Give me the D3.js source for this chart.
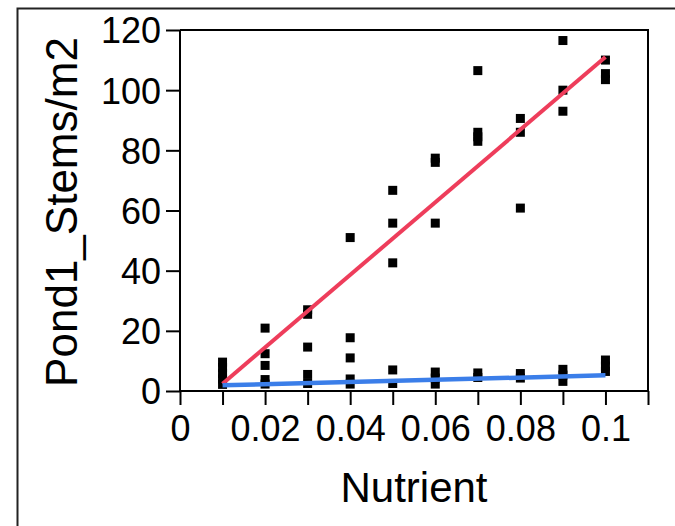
<!DOCTYPE html>
<html>
<head>
<meta charset="utf-8">
<script src="https://cdn.jsdelivr.net/npm/d3@7"></script>
<style>
  body { margin: 0; background: #fff; }
  svg text { font-family: "Liberation Sans", Arial, sans-serif; fill: #000; }
</style>
</head>
<body>
<script>
// values
var nutrientLevels = [0.01, 0.02, 0.03, 0.04, 0.05, 0.06, 0.07, 0.08, 0.09, 0.1];
// ponds that respond to the nutrient
var highStems = [
  [9.6, 7.8],
  [20.9, 12.4, 8.5],
  [27, 25.5, 14.6],
  [51, 17.7, 11],
  [66.7, 55.8, 42.6],
  [77.4, 76, 55.8],
  [106.5, 86, 84.5, 83],
  [90.6, 86, 60.8],
  [116.5, 100, 93],
  [110, 105.5, 103.5]
];
// ponds that barely respond
var lowStems = [
  [5.8, 4, 2.2],
  [3.8, 2.3],
  [5.5, 2.5],
  [4, 2.3],
  [7, 2.5],
  [6.3, 4.3, 2.3],
  [6, 4.5],
  [5.8, 4.3],
  [7.2, 5.3, 3.2],
  [10.3, 8.3, 6.5]
];
// fitted lines, endpoints
var highFit = [[0.01, 2.4], [0.1, 111]];
var lowFit = [[0.01, 1.9], [0.1, 5.2]];

var xTicks = [0, 0.01, 0.02, 0.03, 0.04, 0.05, 0.06, 0.07, 0.08, 0.09, 0.1, 0.11];
var xLabels = ["0", "", "0.02", "", "0.04", "", "0.06", "", "0.08", "", "0.1", ""];
var yTicks = [0, 20, 40, 60, 80, 100, 120];

var width = 675,
    height = 526;

var svg = d3.select("body").append("svg")
    .attr("width", width)
    .attr("height", height);

// outer frame, runs off the right and bottom edge
svg.append("rect")
    .attr("x", 17.5).attr("y", 8.5)
    .attr("width", 720).attr("height", 600)
    .attr("fill", "none")
    .attr("stroke", "#222")
    .attr("stroke-width", 2);

var x = d3.scaleLinear().domain([0, 0.11]).range([180, 648]);
var y = d3.scaleLinear().domain([0, 120]).range([391, 30]);

// plot box top + right
svg.append("path")
    .attr("d", "M" + x(0) + "," + y(120) + "H" + x(0.11) + "V" + y(0))
    .attr("fill", "none")
    .attr("stroke", "#000")
    .attr("stroke-width", 2);

var xAxis = svg.append("g")
    .attr("transform", "translate(0," + y(0) + ")")
    .call(d3.axisBottom(x).tickValues(xTicks).tickSize(14).tickPadding(10)
        .tickFormat(function(d, i) { return xLabels[i]; }));

var yAxis = svg.append("g")
    .attr("transform", "translate(" + x(0) + ",0)")
    .call(d3.axisLeft(y).tickValues(yTicks).tickSize(14).tickPadding(5)
        .tickFormat(d3.format("d")));

[xAxis, yAxis].forEach(function(g) {
    g.select(".domain").attr("stroke", "#000").attr("stroke-width", 2);
    g.selectAll(".tick line").attr("stroke", "#000").attr("stroke-width", 2);
    g.selectAll(".tick text")
        .attr("font-size", 36)
        .attr("font-family", "Liberation Sans, Arial, sans-serif")
        .attr("fill", "#000");
});
// domain path of d3 axes has outer ticks; flatten them
xAxis.select(".domain").attr("d", "M" + x(0) + ",0H" + x(0.11));
yAxis.select(".domain").attr("d", "M0," + y(0) + "V" + y(120));
yAxis.selectAll(".tick text").attr("dy", "0.36em");

// points
var pts = [];
nutrientLevels.forEach(function(n, i) {
    highStems[i].forEach(function(v) { pts.push([n, v]); });
    lowStems[i].forEach(function(v) { pts.push([n, v]); });
});

var sz = 9;
svg.append("g").selectAll("rect")
    .data(pts)
    .enter().append("rect")
    .attr("x", function(d) { return x(d[0]) - sz / 2; })
    .attr("y", function(d) { return y(d[1]) - sz / 2; })
    .attr("width", sz)
    .attr("height", sz)
    .attr("fill", "#000");

var line = d3.line()
    .x(function(d) { return x(d[0]); })
    .y(function(d) { return y(d[1]); });

svg.append("path")
    .datum(highFit)
    .attr("d", line)
    .attr("fill", "none")
    .attr("stroke", "#ee3d5b")
    .attr("stroke-width", 4);

svg.append("path")
    .datum(lowFit)
    .attr("d", line)
    .attr("fill", "none")
    .attr("stroke", "#3b7ee9")
    .attr("stroke-width", 4.5);

// axis titles
svg.append("text")
    .attr("x", 414).attr("y", 502)
    .attr("text-anchor", "middle")
    .attr("font-size", 42)
    .text("Nutrient");

svg.append("text")
    .attr("transform", "translate(77,212) rotate(-90)")
    .attr("text-anchor", "middle")
    .attr("font-size", 44)
    .text("Pond1_Stems/m2");
</script>
</body>
</html>
